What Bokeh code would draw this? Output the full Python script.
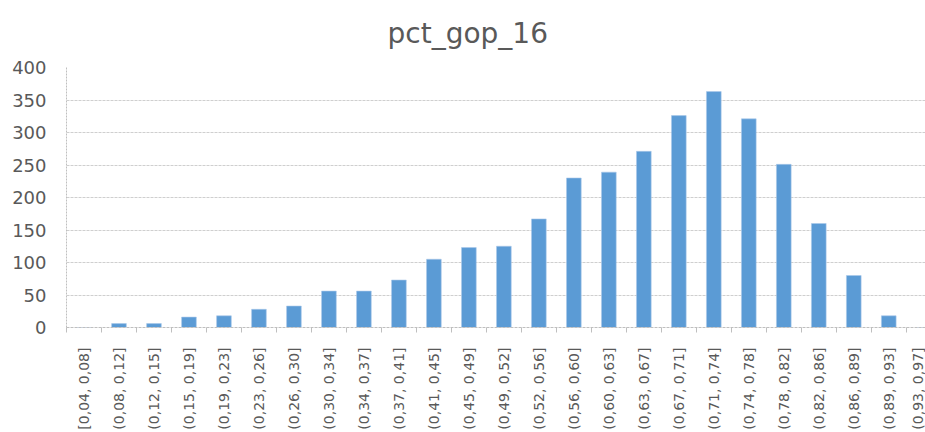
import math
from bokeh.plotting import figure
from bokeh.models import Range1d, FixedTicker, ColumnDataSource
from bokeh.embed import file_html
from bokeh.resources import INLINE

bins = ["[0,04, 0,08]", "(0,08, 0,12]", "(0,12, 0,15]", "(0,15, 0,19]", "(0,19, 0,23]",
        "(0,23, 0,26]", "(0,26, 0,30]", "(0,30, 0,34]", "(0,34, 0,37]", "(0,37, 0,41]",
        "(0,41, 0,45]", "(0,45, 0,49]", "(0,49, 0,52]", "(0,52, 0,56]", "(0,56, 0,60]",
        "(0,60, 0,63]", "(0,63, 0,67]", "(0,67, 0,71]", "(0,71, 0,74]", "(0,74, 0,78]",
        "(0,78, 0,82]", "(0,82, 0,86]", "(0,86, 0,89]", "(0,89, 0,93]", "(0,93, 0,97]"]
counts = [0, 6, 6, 16, 18, 28, 33, 56, 56, 73, 105, 123, 125, 167, 230, 239, 271,
          326, 363, 321, 251, 160, 80, 18, 0]
y_ticks = [0, 50, 100, 150, 200, 250, 300, 350, 400]
title_text = "pct_gop_16"

GREY = "#595959"
FONT = "DejaVu Sans"

centers = [i + 0.5 for i in range(len(bins))]
src = ColumnDataSource(dict(x=centers, top=counts))

p = figure(width=925, height=432, output_backend="svg", toolbar_location=None,
           x_range=Range1d(0, 24.55), y_range=Range1d(0, 400),
           min_border_left=66, min_border_right=0, min_border_top=66, min_border_bottom=105)
p.outline_line_color = None
p.background_fill_color = "white"
p.border_fill_color = "white"

p.vbar(x="x", top="top", width=0.42, source=src, fill_color="#5B9BD5", line_color="#a9c8ea", line_width=0.6)

p.title.text = title_text
p.title.align = "left"
p.title.offset = 321
p.title.vertical_align = "top"
p.title.standoff = 32
p.title.text_font = FONT
p.title.text_font_size = "28px"
p.title.text_font_style = "normal"
p.title.text_color = GREY

# x axis
xa = p.xaxis[0]
xa.ticker = FixedTicker(ticks=centers, minor_ticks=list(range(0, len(bins) + 1)))
xa.major_label_overrides = {c: b for c, b in zip(centers, bins)}
xa.major_label_orientation = math.pi / 2
xa.major_label_text_font = FONT
xa.major_label_text_font_size = "14px"
xa.major_label_text_color = GREY
xa.major_label_standoff = 15
xa.major_tick_line_color = None
xa.major_tick_out = 0
xa.major_tick_in = 0
xa.minor_tick_line_color = "#bfbfbf"
xa.minor_tick_out = 5
xa.minor_tick_in = 0
xa.axis_line_color = "#bfbfbf"
xa.axis_line_dash = "3 1"

# y axis
ya = p.yaxis[0]
ya.ticker = FixedTicker(ticks=y_ticks)
ya.major_label_text_font = FONT
ya.major_label_text_font_size = "18px"
ya.major_label_text_color = GREY
ya.major_label_standoff = 14
ya.major_tick_line_color = None
ya.minor_tick_line_color = None
ya.axis_line_color = "#bfbfbf"
ya.axis_line_dash = "2 1"

p.xgrid.grid_line_color = None
p.ygrid.grid_line_color = "#cfcfcf"
p.ygrid.grid_line_dash = "3 1"

open("out.html", "w").write(file_html(p, INLINE))
